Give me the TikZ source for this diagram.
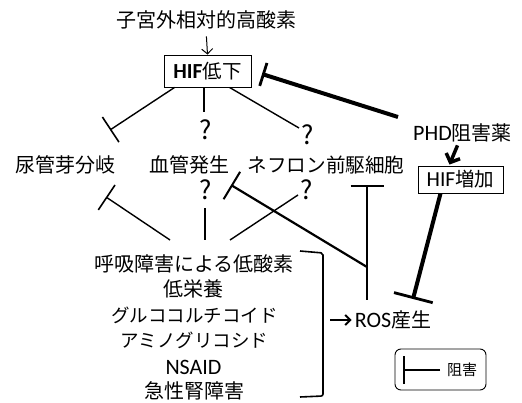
\documentclass[tikz,border=0pt]{standalone}
\usepackage{fontspec}
\setmainfont{Noto Sans CJK JP}
\newfontfamily\lat[Scale=1.1]{Carlito}
\usetikzlibrary{arrows.meta,calc}
\begin{document}
\begin{tikzpicture}[x=1pt,y=-1pt,
  lbl/.style={inner sep=0pt,font=\fontsize{20}{24}\selectfont},
  kata/.style={inner sep=0pt,font=\fontsize{18.5}{22}\selectfont},
  qm/.style={inner sep=0pt,font=\fontsize{26}{30}\selectfont},
  boxn/.style={draw,line width=0.9pt,inner sep=0pt,font=\fontsize{19.5}{22}\selectfont},
  thinl/.style={line width=1.4pt},
  medl/.style={line width=2.2pt},
  thickl/.style={line width=4pt},
  inh/.style={-{Bar[width=#1,line width=1.6pt]}},
  inhm/.style={-{Bar[width=#1,line width=2pt]}},
  inhk/.style={-{Bar[width=#1,line width=2.8pt]}},
]
\useasboundingbox (0,0) rectangle (522,403);

% nodes
\node[lbl] (top) at (206,20) {子宮外相対的高酸素};
\node[boxn, minimum width=87pt, minimum height=32pt] (hifl) at (207.5,71) {{\lat\bfseries HIF}低下};
\node[lbl] (phd) at (462.5,133) {{\lat PHD}阻害薬};
\node[boxn, minimum width=85pt, minimum height=27pt] (hifu) at (460.5,179.5) {{\lat HIF}増加};

\node[lbl] (bud) at (66,165) {尿管芽分岐};
\node[lbl] (vas) at (189,165) {血管発生};
\node[kata,font=\fontsize{19.6}{22}\selectfont] (nep) at (326,165) {ネフロン前駆細胞};

\node[qm] (q1) at (206,130) {?};
\node[qm] (q2) at (307.5,135) {?};
\node[qm] (q3) at (206,190) {?};
\node[qm] (q4) at (307,190) {?};

\node[lbl] (b1) at (194,264) {呼吸障害による低酸素};
\node[lbl] (b2) at (193,289) {低栄養};
\node[kata] (b3) at (194.5,315) {グルココルチコイド};
\node[kata] (b4) at (194.5,340) {アミノグリコシド};
\node[lbl] (b5) at (193.5,367) {\lat NSAID};
\node[lbl] (b6) at (194.5,391) {急性腎障害};

\node[lbl] (ros) at (393,320) {{\lat ROS}産生};

\node[draw, rounded corners=6pt, line width=0.9pt, minimum width=91pt, minimum height=41pt, inner sep=0pt] (leg) at (440.5,369.5) {};
\node[inner sep=0pt,font=\fontsize{15}{18}\selectfont] (legt) at (462,370) {阻害};

% coordinates
\coordinate (c1) at (204,112);
\coordinate (c2) at (299,128);
\coordinate (budT) at (110,130);
\coordinate (l1s) at (170,240);
\coordinate (l1e) at (106,197);
\coordinate (l2s) at (205,240);
\coordinate (l2e) at (205,208);
\coordinate (l3s) at (230,240);
\coordinate (l3e) at (298,195);
\coordinate (vj) at (367,267);
\coordinate (vasB) at (231,185);
\coordinate (rtop) at (367,300);
\coordinate (rbar) at (367,185);
\coordinate (phdS) at (398,117);
\coordinate (hiflB) at (262,74);
\coordinate (rosB) at (413,299);
\coordinate (brk1) at (300,251);
\coordinate (brk2) at (300,397);
\coordinate (rosA) at (330,320);
\coordinate (legA) at (440,370);
\coordinate (legB) at (403,370);

% top arrow
\draw[line width=1pt,-{Straight Barb[length=5pt,width=11pt]},shorten <=7pt] (top.south) -- (hifl.north);

% from HIF low
\draw[thinl,inh=30pt] ($(hifl.south west)+(11,0)$) -- (budT);
\draw[thinl] (hifl.south -| c1) -- (c1);
\draw[thinl] ($(hifl.south west)+(66,0)$) -- (c2);

% PHD inhibitor to HIF low
\draw[thickl,inhk=24pt] (phdS) -- (hiflB);
% PHD to HIF up
\draw[line width=3.5pt,-{Straight Barb[length=7pt,width=15pt]}] ($(phd.south)+(-5,3)$) -- ($(hifu.north)+(-11,-1)$);

% from bottom block
\draw[thinl,inh=30pt] (l1s) -- (l1e);
\draw[thinl] (l2s) -- (l2e);
\draw[thinl] (l3s) -- (l3e);

% ROS
\draw[medl,inhm=32pt] (vj) -- (vasB);
\draw[medl,inhm=33pt] (rtop) -- (rbar);
\draw[thickl,inhk=40pt] ($(hifu.south)+(-20,0)$) -- (rosB);

% bracket
\draw[line width=1.6pt,rounded corners=2pt] (brk1) -- (323,253) -- (323,396) -- (brk2);
\draw[line width=2pt,-{Straight Barb[length=5pt,width=10pt]}] (rosA) -- ($(ros.west)+(-3,0)$);

% legend symbol
\draw[line width=1.3pt,-{Bar[width=28pt,line width=1.6pt]}] (legA) -- (legB);
\end{tikzpicture}
\end{document}
